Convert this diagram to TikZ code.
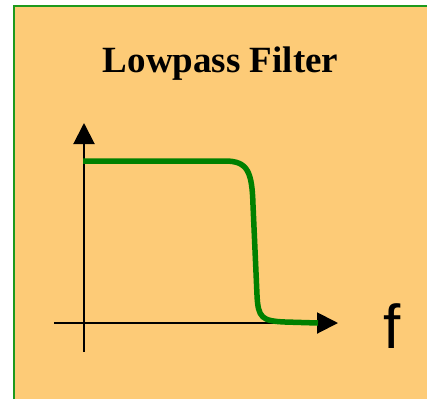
\documentclass[tikz,border=0pt]{standalone}
\usepackage{fontspec}
\setmainfont{Liberation Serif}
\newfontfamily\fsans{Liberation Sans}
\usetikzlibrary{arrows.meta}
\definecolor{boxfill}{HTML}{FDCB77}
\definecolor{boxedge}{HTML}{1E9A1E}
\definecolor{curvegreen}{HTML}{008000}
\tikzset{
  axisline/.style={line width=2pt, black, -{Triangle[length=21pt,width=21pt]}},
  curveline/.style={line width=5.5pt, curvegreen, line cap=butt, line join=round},
  titletext/.style={font=\fontsize{37}{40}\selectfont\bfseries, inner sep=0pt, anchor=base},
  flabel/.style={font=\fsans\fontsize{62}{66}\selectfont, inner sep=0pt, anchor=base}
}
\begin{document}
\begin{tikzpicture}[x=1pt,y=-1pt]
\useasboundingbox (0,0) rectangle (427,399);
\fill[white] (0,0) rectangle (427,399);
\fill[boxfill] (14,6) rectangle (427,399);
\draw[boxedge, line width=1.6pt] (14,399) -- (14,6) -- (427,6);
\node[titletext] (title) at (220.5,72) {Lowpass Filter};
\coordinate (ybot) at (84,352);
\coordinate (ytop) at (84,123);
\coordinate (xleft) at (54,323);
\coordinate (xright) at (338,323);
\draw[axisline] (ybot) -- (ytop);
\draw[axisline] (xleft) -- (xright);
\draw[curveline] (83,161) -- (225,161) .. controls (248,161) and (252,172) .. (253,205) -- (257,295) .. controls (258,318) and (262,321) .. (285,322) -- (318,323);
\node[flabel] (f) at (392,348) {f};
\end{tikzpicture}
\end{document}
